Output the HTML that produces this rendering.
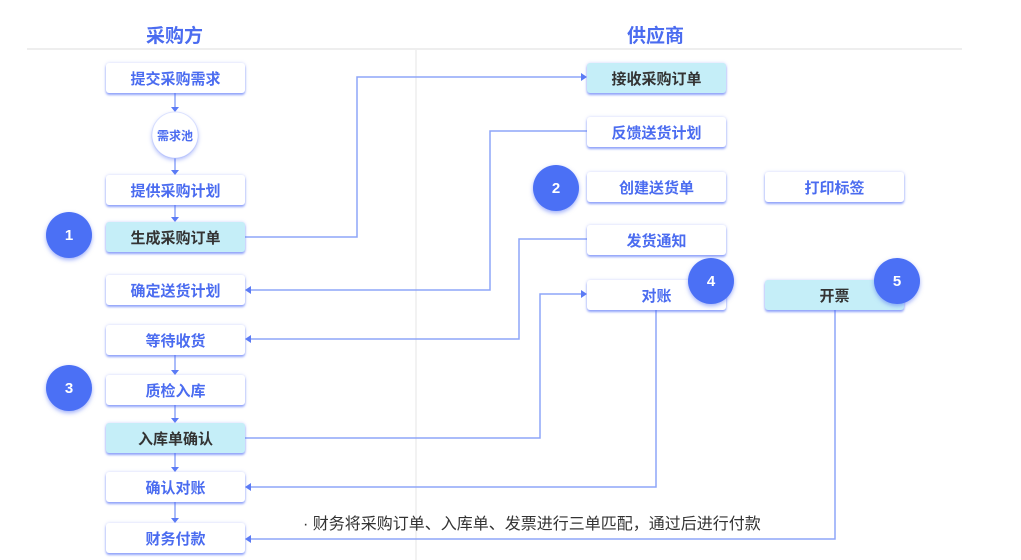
<!DOCTYPE html>
<html><head><meta charset="utf-8"><style>
body{margin:0;width:1021px;height:560px;background:#fff;position:relative;overflow:hidden;font-family:"Liberation Sans","Noto Sans CJK SC",sans-serif}
.b{position:absolute;width:139px;height:30px;background:#fff;border-radius:3px;box-shadow:0 2px 2px rgba(70,100,245,.55),0 0 3px rgba(120,140,250,.35);color:#4b6cf0;font-weight:bold;font-size:15px;line-height:33px;text-align:center}
.h{background:#c5eef8;color:#333}
.c{position:absolute;width:46px;height:46px;border-radius:50%;background:#4b70f5;color:#fff;font-weight:bold;font-size:15px;line-height:48px;text-align:center;box-shadow:0 2px 4px rgba(70,100,245,.5)}
.t{position:absolute;font-weight:bold;font-size:19px;color:#4b6cf0}
svg{position:absolute;left:0;top:0}
</style></head><body>
<svg width="1021" height="560">
<line x1="27" y1="49" x2="962" y2="49" stroke="#eee" stroke-width="2"/>
<line x1="416" y1="50" x2="416" y2="560" stroke="#eee" stroke-width="1.5"/>
<g stroke="#8ea5f8" stroke-width="1.5" fill="none">
<path d="M175 93V108M175 158V171M175 205V218M175 355V371M175 405V419M175 453V468M175 502V519"/>
<path d="M245 237H357V77H582"/>
<path d="M587 131H490V290H250"/>
<path d="M587 239H519V339H250"/>
<path d="M245 438H540V294H582"/>
<path d="M656 310V487H250"/>
<path d="M835 310V539H250"/>
</g>
<g fill="#5b7bf5">
<path d="M171 107h8l-4 5z M171 170h8l-4 5z M171 217h8l-4 5z M171 370h8l-4 5z M171 418h8l-4 5z M171 467h8l-4 5z M171 518h8l-4 5z"/>
<path d="M581 73v8l6-4z M581 290v8l6-4z"/>
<path d="M251 286v8l-6-4z M251 335v8l-6-4z M251 483v8l-6-4z M251 535v8l-6-4z"/>
</g>
<circle cx="175" cy="135" r="23" fill="#fff" stroke="#e4e9ff" stroke-width="1"/>
</svg>
<div class="t" style="left:146px;top:21px">采购方</div>
<div class="t" style="left:627px;top:21px">供应商</div>
<div style="position:absolute;left:152px;top:112px;width:46px;height:46px;border-radius:50%;box-shadow:0 2px 4px rgba(70,100,245,.45);text-align:center;line-height:48px;font-size:12px;font-weight:bold;color:#4b6cf0">需求池</div>
<div class="b" style="left:106px;top:63px">提交采购需求</div>
<div class="b" style="left:106px;top:175px">提供采购计划</div>
<div class="b h" style="left:106px;top:222px">生成采购订单</div>
<div class="b" style="left:106px;top:275px">确定送货计划</div>
<div class="b" style="left:106px;top:325px">等待收货</div>
<div class="b" style="left:106px;top:375px">质检入库</div>
<div class="b h" style="left:106px;top:423px">入库单确认</div>
<div class="b" style="left:106px;top:472px">确认对账</div>
<div class="b" style="left:106px;top:523px">财务付款</div>
<div class="b h" style="left:587px;top:63px">接收采购订单</div>
<div class="b" style="left:587px;top:117px">反馈送货计划</div>
<div class="b" style="left:587px;top:172px">创建送货单</div>
<div class="b" style="left:587px;top:225px">发货通知</div>
<div class="b" style="left:587px;top:280px">对账</div>
<div class="b" style="left:765px;top:172px">打印标签</div>
<div class="b h" style="left:765px;top:280px">开票</div>
<div class="c" style="left:46px;top:212px">1</div>
<div class="c" style="left:533px;top:165px">2</div>
<div class="c" style="left:46px;top:365px">3</div>
<div class="c" style="left:688px;top:258px">4</div>
<div class="c" style="left:874px;top:258px">5</div>
<div style="position:absolute;left:303px;top:510px;font-size:16px;color:#333;white-space:nowrap">· 财务将采购订单、入库单、发票进行三单匹配，通过后进行付款</div>
</body></html>
